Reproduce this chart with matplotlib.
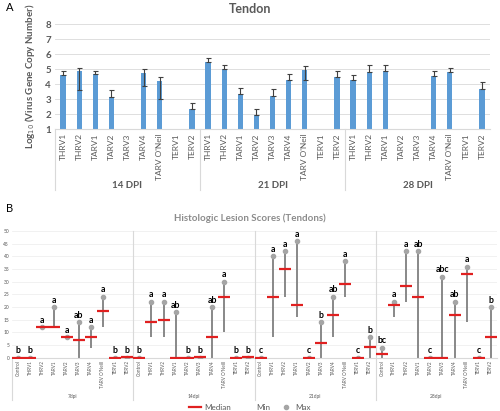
import numpy as np
import matplotlib.pyplot as plt
from matplotlib.lines import Line2D

plt.rcParams['font.family'] = ['Lato', 'DejaVu Sans']

# ---- panel A data: log10 virus copy number in tendon
strainsA = ['THRV1', 'THRV2', 'TARV1', 'TARV2', 'TARV3', 'TARV4', "TARV O'Neil", 'TERV1', 'TERV2']
groupsA = ['14 DPI', '21 DPI', '28 DPI']
meanA = [4.58, 4.86, 4.69, 3.14, np.nan, 4.71, 4.18, np.nan, 2.32,
         5.45, 5.0, 3.34, 1.93, 3.2, 4.27, 4.93, np.nan, 4.49,
         4.27, 4.82, 4.88, np.nan, np.nan, 4.53, 4.77, np.nan, 3.69]
upperA = [4.86, 5.1, 4.9, 3.58, np.nan, 5.0, 4.44, np.nan, 2.72,
          5.72, 5.3, 3.72, 2.37, 3.65, 4.66, 5.19, np.nan, 4.88,
          4.58, 5.24, 5.24, np.nan, np.nan, 4.84, 5.1, np.nan, 4.13]
lowerA = [4.58, 3.6, 4.69, 3.14, np.nan, 3.9, 3.0, np.nan, 2.32,
          5.45, 5.0, 3.34, 1.93, 3.2, 4.27, 4.27, np.nan, 4.49,
          4.27, 4.82, 4.88, np.nan, np.nan, 4.53, 4.77, np.nan, 3.69]

# ---- panel B data: histologic lesion scores
strainsB = ['Control', 'THRV1', 'THRV2', 'TARV1', 'TARV2', 'TARV3', 'TARV4', "TARV O'Neill", 'TERV1', 'TERV2']
groupsB = ['7dpi', '14dpi', '21dpi', '28dpi']
medianB = [0, 0, 12, 12, 8, 7, 8, 18.5, 0, 0.2,
           0, 14, 15, 0, 0, 0.2, 8, 24, 0, 0.2,
           0, 24, 35, 21, 0, 6, 17, 29, 0, 4.3,
           1.4, 20.7, 28.5, 24, 0, 0, 17, 33, 0, 8]
minB = [0, 0, 12, 12, 8, 0, 4, 12, 0, 0,
        0, 8, 8, 0, 0, 0, 0, 10, 0, 0,
        0, 8, 24, 16, 0, 0, 8, 24, 0, 0,
        0, 16, 22, 0, 0, 0, 0, 14, 0, 0]
maxB = [0, 0, 12, 20, 8, 14, 12, 24, 0, 0,
        0, 22, 22, 18, 0, 0, 20, 30, 0, 0,
        0, 40, 42, 46, 0, 14, 24, 38, 0, 8,
        4, 22, 42, 42, 0, 32, 22, 36, 0, 20]
lettersB = ['b', 'b', 'a', 'a', 'a', 'ab', 'a', 'a', 'b', 'b',
            'b', 'a', 'a', 'ab', 'b', 'b', 'ab', 'a', 'b', 'b',
            'c', 'a', 'a', 'a', 'c', 'b', 'ab', 'a', 'c', 'b',
            'bc', 'a', 'a', 'ab', 'c', 'abc', 'ab', 'a', 'c', 'b']

grey = '#595959'
fig = plt.figure(figsize=(5, 4.11), dpi=100)

# ================= A =================
axA = fig.add_axes([0.11, 0.686, 0.87, 0.2555])
xA = np.arange(len(meanA))
mA = np.array(meanA)
errA = [mA - np.array(lowerA), np.array(upperA) - mA]
axA.bar(xA, mA - 1, bottom=1, width=0.33, color='#5B9BD5', zorder=2)
axA.errorbar(xA, mA, yerr=errA, fmt='none', ecolor='#404040', elinewidth=0.8,
             capsize=1.8, capthick=0.8, zorder=3)
axA.set_xlim(-0.5, len(meanA) - 0.5)
axA.set_ylim(1, 8)
axA.set_yticks(range(1, 9))
axA.set_yticklabels([str(i) for i in range(1, 9)], fontsize=7, color=grey, fontweight='bold')
axA.set_xticks(xA)
axA.set_xticklabels(strainsA * 3, rotation=90, fontsize=6, color=grey)
axA.tick_params(length=0, pad=3)
axA.grid(axis='y', color='#D9D9D9', lw=0.6, zorder=0)
for s in ['top', 'right', 'left']:
    axA.spines[s].set_visible(False)
axA.spines['bottom'].set_color('#D9D9D9')
axA.set_ylabel(r'Log$_{10}$ (Virus Gene Copy Number)', fontsize=7, color=grey,
               fontweight='bold', labelpad=6)
for b in [-0.5, 8.5, 17.5]:
    axA.plot([b, b], [0, -0.58], transform=axA.get_xaxis_transform(), color='#D9D9D9',
             lw=0.8, clip_on=False)
for i, g in enumerate(groupsA):
    axA.text(4 + 9 * i, -0.535, g, transform=axA.get_xaxis_transform(), ha='center',
             va='center', fontsize=7, fontweight='bold', color=grey)
fig.text(0.5, 0.978, 'Tendon', ha='center', va='center', fontsize=9, fontweight='bold', color=grey)
fig.text(0.012, 0.982, 'A', fontsize=8, va='center')

# ================= B =================
axB = fig.add_axes([0.024, 0.1297, 0.97, 0.308])
xB = np.arange(len(medianB))
axB.vlines(xB, minB, maxB, color='#7F7F7F', lw=1.3, zorder=2)
axB.plot(xB, maxB, 'o', color='#A5A5A5', ms=3, zorder=3)
axB.plot(xB, medianB, '_', color='#E02020', ms=8.5, mew=1.6, zorder=4)
for x, top, t in zip(xB, maxB, lettersB):
    axB.text(x, top + 1.0, t, ha='center', va='bottom', fontsize=6.3, fontweight='bold')
axB.set_xlim(-0.5, len(medianB) - 0.5)
axB.set_ylim(0, 50)
axB.set_yticks(range(0, 51, 5))
axB.set_yticklabels([str(i) for i in range(0, 51, 5)], fontsize=3.5, color=grey)
axB.set_xticks(xB)
axB.set_xticklabels(strainsB * 4, rotation=90, fontsize=3.3, color=grey)
axB.tick_params(length=0, pad=2)
axB.grid(axis='y', color='#EBEBEB', lw=0.5, zorder=0)
for s in ['top', 'right', 'left']:
    axB.spines[s].set_visible(False)
axB.spines['bottom'].set_color('#D9D9D9')
axB.plot([-0.5, -0.5], [0, -0.335], transform=axB.get_xaxis_transform(), color='#D9D9D9',
         lw=0.8, clip_on=False)
for b in [9.5, 19.5, 29.5]:
    axB.plot([b, b], [1, -0.335], transform=axB.get_xaxis_transform(), color='#D9D9D9',
             lw=0.8, clip_on=False)
for i, g in enumerate(groupsB):
    axB.text(4.5 + 10 * i, -0.31, g, transform=axB.get_xaxis_transform(), ha='center',
             va='center', fontsize=3.5, color=grey)
fig.text(0.5, 0.468, 'Histologic Lesion Scores (Tendons)', ha='center', va='center',
         fontsize=7, fontweight='bold', color='#8C8C8C')
fig.text(0.012, 0.493, 'B', fontsize=8, va='center')

handles = [Line2D([], [], color='#E02020', lw=1.6),
           Line2D([], [], color='none'),
           Line2D([], [], ls='none', marker='o', color='#A5A5A5', ms=3)]
fig.legend(handles, ['Median', 'Min', 'Max'], loc='center', bbox_to_anchor=(0.5, 0.008),
           ncol=3, frameon=False, fontsize=5.8, handlelength=1.5, columnspacing=1.2,
           handletextpad=0.4, labelcolor=grey)

fig.savefig('out.png', dpi=100)
